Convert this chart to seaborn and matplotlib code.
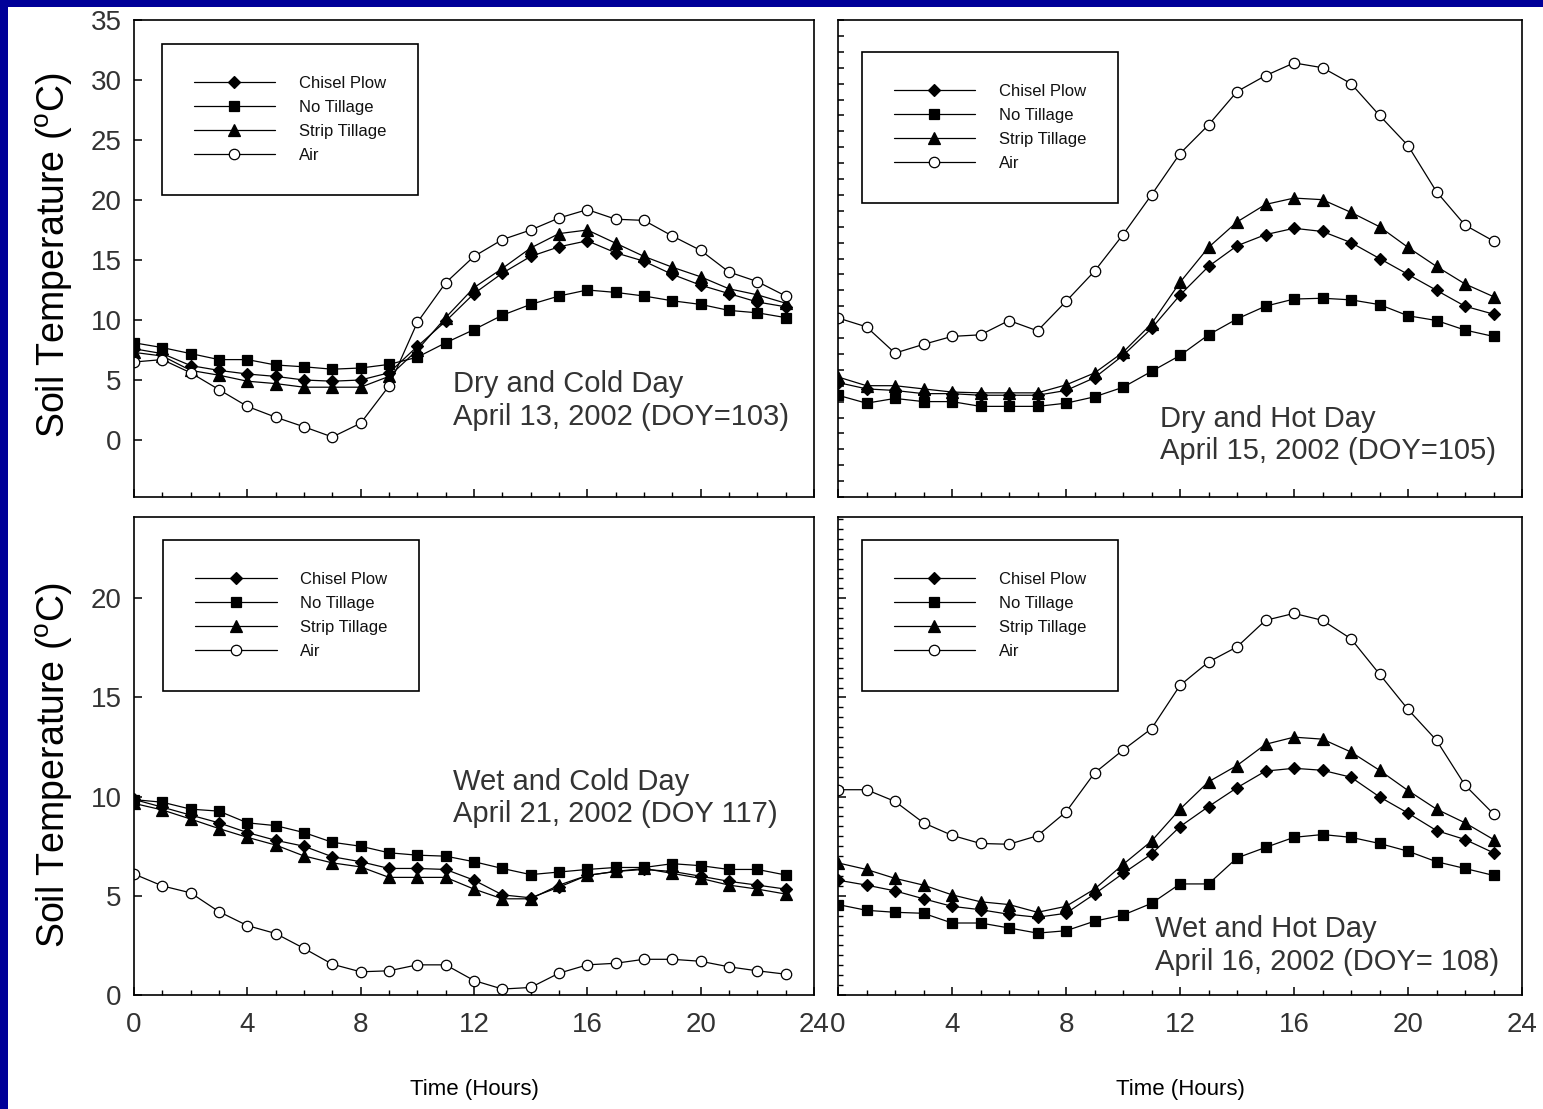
import matplotlib
matplotlib.use('Agg')
import matplotlib.pyplot as plt
import seaborn as sns
from matplotlib.ticker import MultipleLocator
from matplotlib.patches import Rectangle

# ---------------- data ----------------
hours = list(range(24))
series_names = ['Chisel Plow', 'No Tillage', 'Strip Tillage', 'Air']

# Dry and Cold Day (DOY 103)
dc_chisel = [7.6, 7.2, 6.2, 5.8, 5.5, 5.3, 5.0, 4.9, 5.0, 5.6, 7.8, 9.9, 12.2, 13.9, 15.3, 16.1, 16.6, 15.6, 14.9, 13.8, 12.9, 12.2, 11.5, 11.1]
dc_nt = [8.1, 7.7, 7.2, 6.7, 6.7, 6.25, 6.1, 5.9, 6.0, 6.3, 6.9, 8.1, 9.2, 10.4, 11.3, 12.0, 12.5, 12.3, 12.0, 11.6, 11.3, 10.8, 10.6, 10.2]
dc_st = [7.3, 7.0, 5.8, 5.4, 4.9, 4.7, 4.4, 4.4, 4.4, 5.3, 7.5, 10.2, 12.7, 14.3, 16.0, 17.2, 17.5, 16.4, 15.3, 14.4, 13.6, 12.6, 12.1, 11.4]
dc_air = [6.5, 6.7, 5.6, 4.2, 2.8, 1.9, 1.1, 0.25, 1.4, 4.5, 9.8, 13.1, 15.3, 16.7, 17.5, 18.5, 19.2, 18.4, 18.3, 17.0, 15.8, 14.0, 13.2, 12.0]

# Dry and Hot Day (DOY 105)
dh_chisel = [7.2, 6.8, 6.7, 6.5, 6.5, 6.4, 6.4, 6.4, 6.7, 7.5, 8.9, 10.6, 12.7, 14.5, 15.8, 16.5, 16.9, 16.7, 16.0, 15.0, 14.0, 13.0, 12.0, 11.5]
dh_nt = [6.4, 5.9, 6.2, 6.0, 6.0, 5.7, 5.7, 5.7, 5.9, 6.3, 6.9, 7.9, 8.9, 10.2, 11.2, 12.0, 12.45, 12.5, 12.4, 12.1, 11.4, 11.1, 10.5, 10.1]
dh_st = [7.55, 7.0, 7.0, 6.8, 6.6, 6.55, 6.55, 6.55, 7.05, 7.8, 9.1, 10.9, 13.5, 15.7, 17.3, 18.4, 18.8, 18.7, 17.9, 17.0, 15.7, 14.5, 13.4, 12.6]
dh_air = [11.26, 10.7, 9.05, 9.6, 10.1, 10.2, 11.1, 10.45, 12.3, 14.2, 16.5, 19.0, 21.6, 23.4, 25.5, 26.5, 27.3, 27.0, 26.0, 24.0, 22.1, 19.2, 17.1, 16.1]

# Wet and Cold Day (DOY 117)
wc_chisel = [9.86, 9.47, 9.07, 8.68, 8.19, 7.8, 7.5, 6.97, 6.72, 6.38, 6.38, 6.33, 5.79, 5.05, 4.9, 5.44, 6.03, 6.23, 6.33, 6.23, 5.99, 5.73, 5.54, 5.34]
wc_nt = [9.85, 9.72, 9.37, 9.27, 8.68, 8.54, 8.19, 7.7, 7.5, 7.17, 7.05, 7.0, 6.72, 6.38, 6.07, 6.2, 6.33, 6.43, 6.43, 6.62, 6.52, 6.33, 6.33, 6.05]
wc_st = [9.66, 9.33, 8.87, 8.39, 7.95, 7.56, 7.01, 6.66, 6.46, 5.93, 5.93, 5.93, 5.34, 4.85, 4.85, 5.54, 6.03, 6.23, 6.38, 6.13, 5.88, 5.54, 5.34, 5.09]
wc_air = [6.1, 5.5, 5.15, 4.2, 3.5, 3.1, 2.35, 1.55, 1.17, 1.22, 1.52, 1.52, 0.73, 0.3, 0.38, 1.1, 1.52, 1.6, 1.8, 1.8, 1.7, 1.42, 1.22, 1.05]

# Wet and Hot Day (DOY 108)
wh_chisel = [5.79, 5.54, 5.25, 4.85, 4.47, 4.3, 4.07, 3.92, 4.12, 5.09, 6.13, 7.11, 8.49, 9.5, 10.45, 11.29, 11.43, 11.33, 10.98, 9.99, 9.17, 8.29, 7.84, 7.17]
wh_nt = [4.56, 4.27, 4.17, 4.12, 3.63, 3.63, 3.38, 3.12, 3.24, 3.72, 4.03, 4.62, 5.6, 5.6, 6.91, 7.44, 7.95, 8.09, 7.95, 7.64, 7.25, 6.72, 6.38, 6.03]
wh_st = [6.66, 6.33, 5.88, 5.54, 5.05, 4.7, 4.56, 4.17, 4.47, 5.34, 6.58, 7.76, 9.37, 10.75, 11.57, 12.64, 13.0, 12.9, 12.25, 11.33, 10.31, 9.37, 8.68, 7.84]
wh_air = [10.35, 10.35, 9.76, 8.68, 8.05, 7.64, 7.6, 8.03, 9.23, 11.19, 12.35, 13.43, 15.61, 16.79, 17.55, 18.89, 19.24, 18.89, 17.96, 16.18, 14.4, 12.84, 10.58, 9.13]

panel_texts = ['Dry and Cold Day\nApril 13, 2002 (DOY=103)',
               'Dry and Hot Day\nApril 15, 2002 (DOY=105)',
               'Wet and Cold Day\nApril 21, 2002 (DOY 117)',
               'Wet and Hot Day\nApril 16, 2002 (DOY= 108)']
x_ticks = [0, 4, 8, 12, 16, 20, 24]
ylabel = r'Soil Temperature ($^{\mathrm{o}}$C)'
xlabel = 'Time (Hours)'

# ---------------- style ----------------
sns.set_theme(style='white')
plt.rcParams['font.family'] = ['Liberation Sans', 'DejaVu Sans']
plt.rcParams['mathtext.fontset'] = 'custom'
plt.rcParams['mathtext.rm'] = 'Liberation Sans'
plt.rcParams['mathtext.it'] = 'Liberation Sans:italic'

W, H = 1543, 1109
fig = plt.figure(figsize=(W / 100, H / 100), dpi=100)
fig.patch.set_facecolor('#000099')
fig.add_artist(Rectangle((8 / W, 0), 1, 1 - 7 / H, transform=fig.transFigure,
                         facecolor='white', edgecolor='none', zorder=-5))

def frac(l, r, t, b):
    return [l / W, 1 - b / H, (r - l) / W, (b - t) / H]

axTL = fig.add_axes(frac(134, 814, 20, 497))
axTR = fig.add_axes(frac(838, 1522, 20, 497))
axBL = fig.add_axes(frac(134, 814, 517, 995))
axBR = fig.add_axes(frac(838, 1522, 517, 995))

marker_styles = {
    'Chisel Plow': dict(marker='D', markersize=6.5, markerfacecolor='black'),
    'No Tillage': dict(marker='s', markersize=7.5, markerfacecolor='black'),
    'Strip Tillage': dict(marker='^', markersize=8.5, markerfacecolor='black'),
    'Air': dict(marker='o', markersize=7.5, markerfacecolor='white'),
}

panels = [
    (axTL, [dc_chisel, dc_nt, dc_st, dc_air]),
    (axTR, [dh_chisel, dh_nt, dh_st, dh_air]),
    (axBL, [wc_chisel, wc_nt, wc_st, wc_air]),
    (axBR, [wh_chisel, wh_nt, wh_st, wh_air]),
]

legend_anchor = [(0.041, 0.950), (0.035, 0.933), (0.043, 0.952), (0.035, 0.952)]
text_pos = [(0.469, 0.266), (0.471, 0.193), (0.469, 0.475), (0.463, 0.167)]

for i, (ax, vals) in enumerate(panels):
    ax.set_facecolor('white')
    for name, v in zip(series_names, vals):
        sns.lineplot(x=hours, y=v, ax=ax, color='black', linewidth=0.9,
                     markeredgecolor='black', markeredgewidth=0.9,
                     label=name, **marker_styles[name])
    for s in ax.spines.values():
        s.set_visible(True)
        s.set_color('black')
        s.set_linewidth(1.2)
    ax.set_xlim(0, 24)
    ax.xaxis.set_major_locator(MultipleLocator(4))
    ax.xaxis.set_minor_locator(MultipleLocator(1))
    ax.tick_params(axis='both', which='both', direction='in', left=True, bottom=True,
                   top=False, right=False, colors='black', labelcolor='#333333',
                   labelsize=20)
    ax.tick_params(axis='both', which='major', length=6, width=1.1)
    ax.tick_params(axis='both', which='minor', length=3.5, width=1.0)
    ax.tick_params(axis='x', pad=12)
    ax.tick_params(axis='y', pad=9)
    ax.set_xlabel('')
    ax.set_ylabel('')
    leg = ax.legend(loc='upper left', bbox_to_anchor=legend_anchor[i], borderaxespad=0,
                    frameon=True, fancybox=False, framealpha=1, edgecolor='black',
                    fontsize=12, handlelength=4.9, handletextpad=1.4, borderpad=1.9,
                    labelspacing=0.55, numpoints=1)
    leg.get_frame().set_linewidth(1.2)
    for t in leg.get_texts():
        t.set_color('#111111')
    tx, ty = text_pos[i]
    ax.text(tx, ty, panel_texts[i], transform=ax.transAxes, ha='left', va='top',
            fontsize=21, color='#333333', linespacing=1.2)

# top-left
axTL.set_ylim(-4.75, 35)
axTL.set_yticks([0, 5, 10, 15, 20, 25, 30, 35])
axTL.tick_params(axis='x', labelbottom=False)
axTL.set_ylabel(ylabel, fontsize=27, color='black')
axTL.yaxis.set_label_coords(-0.087, 0.507)

# top-right
axTR.set_ylim(0, 30)
axTR.yaxis.set_major_locator(MultipleLocator(1))
axTR.tick_params(axis='y', which='major', length=4.5)
axTR.tick_params(axis='x', labelbottom=False)
axTR.tick_params(axis='y', labelleft=False)

# bottom-left
axBL.set_ylim(0, 24.1)
axBL.set_yticks([0, 5, 10, 15, 20])
axBL.set_xticks(x_ticks)
axBL.set_ylabel(ylabel, fontsize=27, color='black')
axBL.yaxis.set_label_coords(-0.087, 0.48)
axBL.set_xlabel(xlabel, fontsize=16, color='black', va='top')
axBL.xaxis.set_label_coords(0.5, -0.176)

# bottom-right
axBR.set_ylim(0, 24.1)
axBR.yaxis.set_major_locator(MultipleLocator(5))
axBR.yaxis.set_minor_locator(MultipleLocator(0.5))
axBR.set_xticks(x_ticks)
axBR.tick_params(axis='y', labelleft=False)
axBR.set_xlabel(xlabel, fontsize=16, color='black', va='top')
axBR.xaxis.set_label_coords(0.5, -0.176)

fig.savefig('out.png', dpi=100, facecolor=fig.get_facecolor())
